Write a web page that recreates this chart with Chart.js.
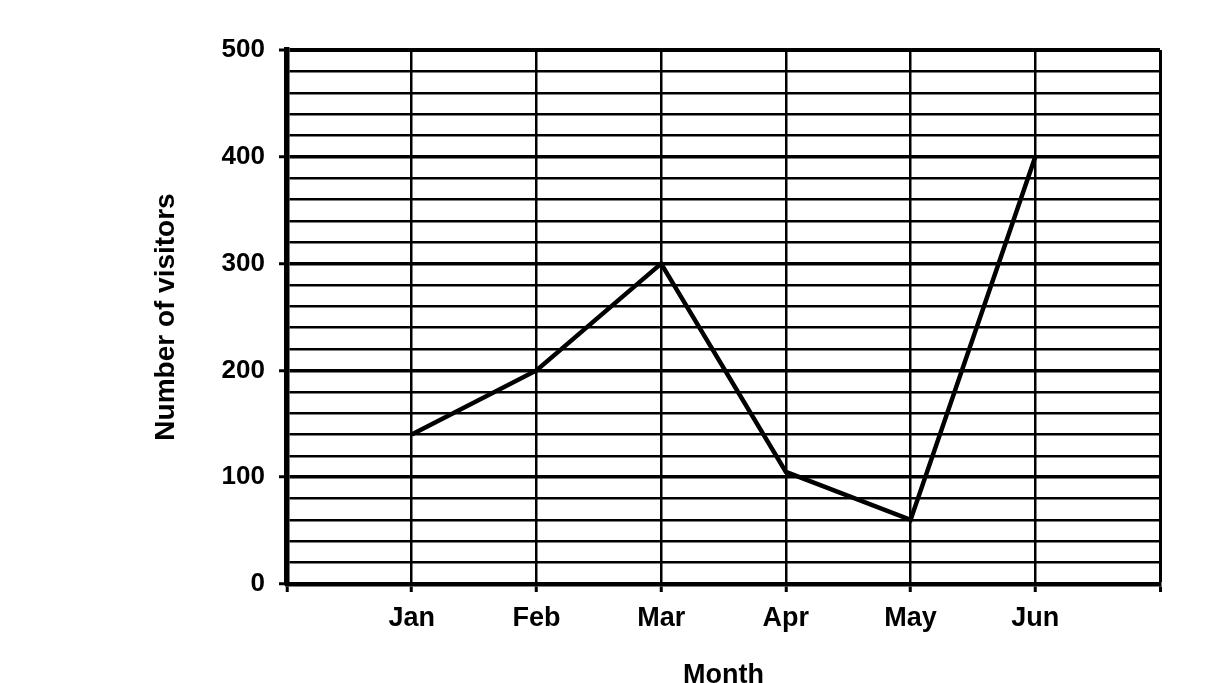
<!DOCTYPE html>
<html>
<head>
<meta charset="utf-8">
<style>
  html, body { margin: 0; padding: 0; background: #fff; overflow: hidden; }
  #c { display: block; }
</style>
<script src="https://cdn.jsdelivr.net/npm/chart.js@4/dist/chart.umd.min.js"></script>
</head>
<body>
<canvas id="c" width="1215" height="696" style="width:1215px;height:696px"></canvas>
<script>
// ---- data ----
const months = ['Jan', 'Feb', 'Mar', 'Apr', 'May', 'Jun'];
const visitors = [140, 200, 300, 105, 60, 400];
const yTickLabels = [0, 100, 200, 300, 400, 500];
const xTitle = 'Month';
const yTitle = 'Number of visitors';

const FONT = "'Liberation Sans', Arial, Helvetica, sans-serif";

const points = months.map((m, i) => ({ x: i + 1, y: visitors[i] }));

new Chart(document.getElementById('c'), {
  type: 'line',
  data: {
    datasets: [{
      data: points,
      borderColor: '#000',
      borderWidth: 4.5,
      borderJoinStyle: 'miter',
      tension: 0,
      pointRadius: 0,
      fill: false
    }]
  },
  options: {
    responsive: false,
    animation: false,
    devicePixelRatio: 1,
    layout: { padding: { left: 145, right: 55, top: 50, bottom: 0 } },
    plugins: { legend: { display: false }, tooltip: { enabled: false } },
    scales: {
      x: {
        type: 'linear',
        min: 0,
        max: 7,
        afterFit: s => { s.height = 112; },
        ticks: {
          stepSize: 1,
          autoSkip: false,
          maxRotation: 0,
          padding: 10,
          color: '#000',
          font: { family: FONT, size: 27, weight: 'bold' },
          callback: v => months[v - 1] !== undefined ? months[v - 1] : ''
        },
        grid: {
          color: '#000',
          lineWidth: ctx => (ctx.tick && ctx.tick.value === 7) ? 3 : 2.5,
          tickLength: 8,
          tickColor: '#000',
          tickWidth: 3
        },
        border: { display: true, color: '#000', width: 4.5 },
        title: {
          display: true,
          text: xTitle,
          color: '#000',
          font: { family: FONT, size: 27, weight: 'bold' },
          padding: { top: 4, bottom: 4 }
        }
      },
      y: {
        min: 0,
        max: 500,
        afterFit: s => { s.width = 142; },
        ticks: {
          stepSize: 20,
          autoSkip: false,
          padding: 14,
          color: '#000',
          font: { family: FONT, size: 26, weight: 'bold' },
          callback: v => yTickLabels.includes(v) ? String(v) : ''
        },
        grid: {
          color: '#000',
          lineWidth: ctx => {
            const v = ctx.tick ? ctx.tick.value : 0;
            if (v === 500) return 4;
            return yTickLabels.includes(v) ? 3.5 : 2.4;
          },
          tickLength: 8,
          tickColor: ctx => (ctx.tick && yTickLabels.includes(ctx.tick.value)) ? '#000' : 'rgba(0,0,0,0)',
          tickWidth: 3
        },
        border: { display: true, color: '#000', width: 5.5 },
        title: {
          display: true,
          text: yTitle,
          color: '#000',
          font: { family: FONT, size: 28, weight: 'bold' },
          padding: { top: 4, bottom: 4 }
        }
      }
    }
  }
});
</script>
</body>
</html>
